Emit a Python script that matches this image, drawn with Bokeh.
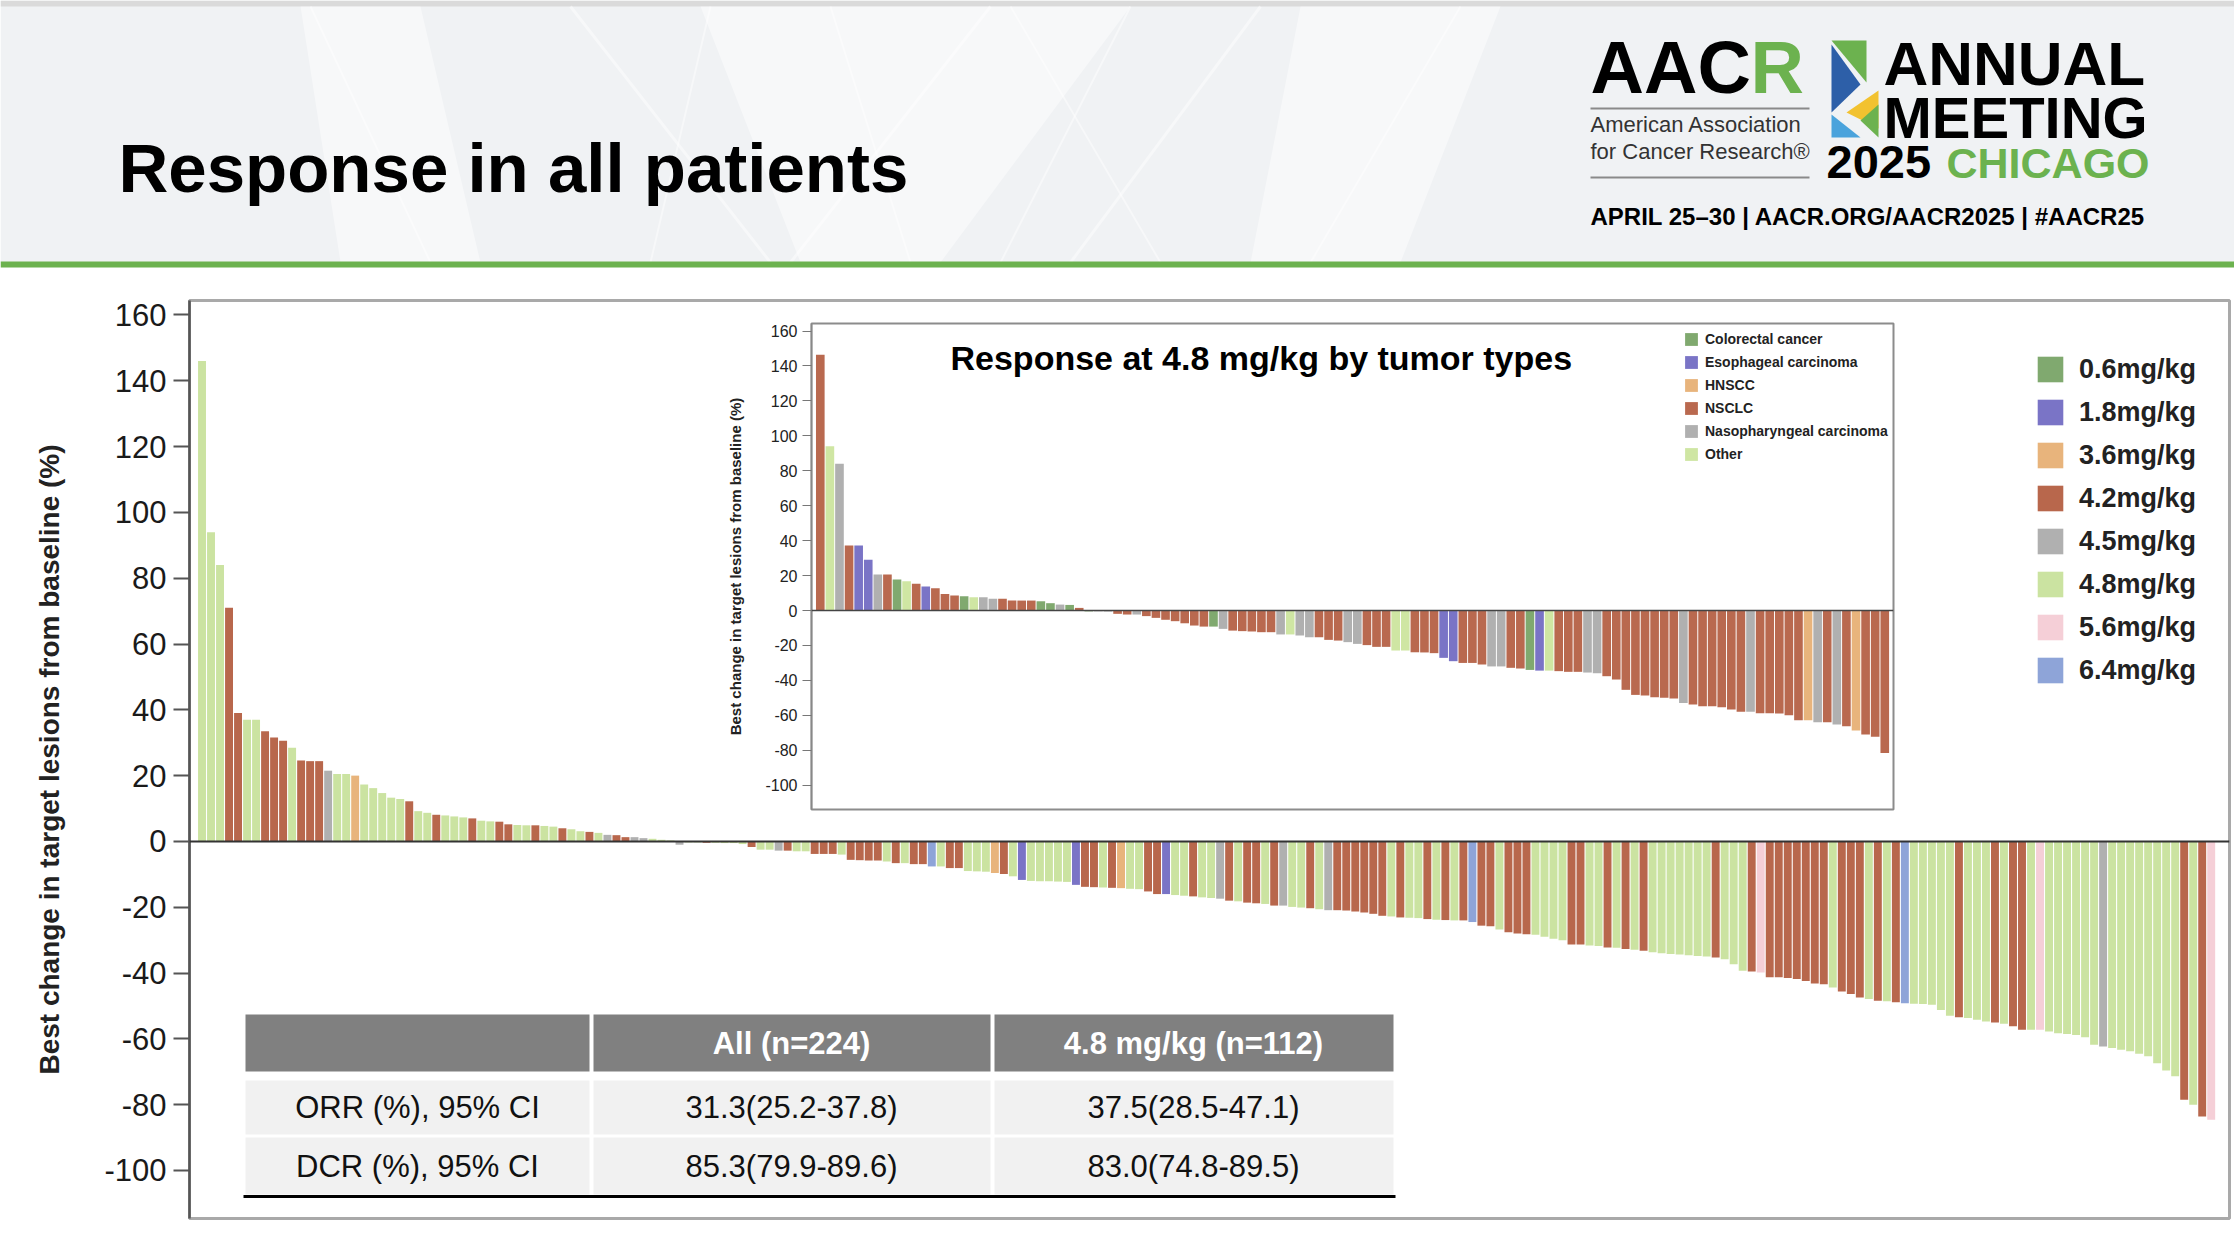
from bokeh.plotting import figure
from bokeh.models import Range1d, FixedTicker, Span, Legend, LegendItem, ColumnDataSource
from bokeh.embed import file_html
from bokeh.resources import INLINE
from bokeh.core.properties import value

W, H = 2234, 1246
FONT = "Liberation Sans"
NAN = float("nan")

# ---------------- data ----------------
dose_codes = ["0.6", "1.8", "3.6", "4.2", "4.5", "4.8", "5.6", "6.4"]
dose_labels = ["0.6mg/kg", "1.8mg/kg", "3.6mg/kg", "4.2mg/kg", "4.5mg/kg", "4.8mg/kg", "5.6mg/kg", "6.4mg/kg"]
dose_colors = ["#80a96f", "#7a74c6", "#e8b47c", "#b8674c", "#b0b0b0", "#cbe3a1", "#f5cfd7", "#8ea4d8"]

main_values = [
    146, 94, 84, 71, 39, 37, 37, 33.5, 31.6, 30.6,
    28.5, 24.6, 24.4, 24.4, 21.5, 20.5, 20.5, 20, 17.3, 16.2,
    14.7, 13.3, 12.9, 12.2, 9.2, 8.7, 8.1, 7.9, 7.6, 7.3,
    7.0, 6.3, 6.1, 6.0, 5.2, 5.0, 4.9, 4.9, 4.7, 4.5,
    4.0, 3.7, 3.1, 2.9, 2.6, 2.0, 1.9, 1.3, 1.3, 1.0,
    0.8, 0.5, 0.3, -1.0, -0.3, -0.3, -0.4, -0.4, -0.5, -0.5,
    -0.8, -1.7, -2.5, -2.5, -2.8, -2.8, -3.0, -3.0, -3.8, -3.8,
    -3.8, -4.0, -5.6, -5.7, -5.8, -5.8, -6.1, -6.6, -6.6, -6.9,
    -6.9, -7.6, -7.6, -8.1, -8.1, -9.0, -9.1, -9.2, -9.6, -9.9,
    -10.6, -11.7, -12.0, -12.1, -12.1, -12.2, -12.3, -13.2, -13.8, -13.9,
    -14.0, -14.1, -14.2, -14.4, -14.5, -15.2, -16.0, -16.0, -16.3, -16.5,
    -16.7, -17.0, -17.2, -17.4, -18.0, -18.2, -18.6, -18.8, -19.0, -19.5,
    -19.5, -19.9, -20.1, -20.3, -20.6, -20.9, -20.9, -21.0, -21.3, -21.6,
    -22.0, -22.6, -22.8, -23.1, -23.2, -23.3, -23.6, -23.8, -23.9, -24.0,
    -24.0, -24.5, -25.6, -25.8, -26.8, -27.6, -28.0, -28.2, -28.4, -29.0,
    -29.6, -30.0, -31.3, -31.3, -31.6, -31.8, -32.2, -32.3, -32.7, -32.9,
    -33.2, -33.7, -34.0, -34.2, -34.4, -34.6, -34.8, -35.0, -35.3, -35.8,
    -37.3, -39.3, -39.5, -39.8, -41.3, -41.3, -41.5, -41.8, -42.4, -43.2,
    -43.4, -44.4, -45.6, -46.4, -47.4, -47.9, -48.4, -48.6, -48.9, -49.2,
    -49.3, -49.4, -49.6, -51.2, -53.0, -53.4, -53.7, -54.2, -54.7, -55.0,
    -55.4, -56.2, -57.2, -57.2, -57.2, -57.8, -58.3, -58.5, -58.8, -59.5,
    -61.8, -62.3, -62.8, -63.3, -63.8, -64.5, -65.3, -67.4, -69.6, -71.4,
    -78.5, -80.0, -83.6, -84.6,
]
main_doses = (
    "4.8 4.8 4.8 4.2 4.2 4.8 4.8 4.2 4.2 4.2 "
    "4.8 4.2 4.2 4.2 4.5 4.8 4.8 3.6 4.8 4.8 "
    "4.8 4.8 4.8 4.2 4.8 4.8 4.2 4.8 4.8 4.8 "
    "4.2 4.8 4.8 4.2 4.2 4.8 4.8 4.2 4.8 4.8 "
    "4.2 4.8 4.8 4.2 4.8 4.5 4.2 4.2 4.5 4.5 "
    "4.8 4.8 4.8 4.5 4.8 4.8 4.2 4.8 4.8 4.8 "
    "4.8 4.2 4.8 4.8 4.5 4.2 4.8 4.8 4.2 4.2 "
    "4.2 4.8 4.2 4.2 4.2 4.2 4.8 4.2 4.8 4.2 "
    "4.2 6.4 4.8 4.2 4.2 4.8 4.8 4.8 3.6 4.2 "
    "4.8 1.8 4.8 4.8 4.8 4.8 4.8 1.8 4.2 4.2 "
    "4.8 4.2 3.6 4.8 4.8 4.2 4.2 1.8 4.8 4.8 "
    "4.2 4.8 4.8 4.5 4.2 4.8 4.2 4.2 4.8 4.2 "
    "4.5 4.8 4.8 4.2 4.8 4.5 4.2 4.2 4.2 4.2 "
    "4.2 4.2 4.8 4.2 4.8 4.8 4.2 4.8 4.2 4.8 "
    "4.2 6.4 4.2 4.2 4.8 4.2 4.2 4.2 4.8 4.8 "
    "4.8 4.8 4.2 4.2 4.8 4.8 4.2 4.8 4.2 4.8 "
    "4.2 4.8 4.8 4.8 4.8 4.8 4.8 4.8 4.2 4.8 "
    "4.8 4.8 4.2 5.6 4.2 4.2 4.2 4.2 4.2 4.2 "
    "4.2 4.8 4.2 4.2 4.2 4.8 4.2 4.8 4.2 6.4 "
    "4.8 4.8 4.8 4.8 4.8 4.2 4.8 4.8 4.8 4.2 "
    "4.8 4.2 4.2 4.8 5.6 4.8 4.8 4.8 4.8 4.8 "
    "4.8 4.5 4.8 4.8 4.8 4.8 4.8 4.8 4.8 4.8 "
    "4.2 4.8 4.2 5.6"
).split()

type_codes = ["C", "E", "H", "N", "Na", "O"]
type_labels = ["Colorectal cancer", "Esophageal carcinoma", "HNSCC", "NSCLC",
               "Nasopharyngeal carcinoma", "Other"]
type_colors = ["#80a96f", "#7a74c6", "#e8b47c", "#b9694f", "#b0b0b0", "#cfe6a3"]

inset_values = [
    146.4, 94, 84, 37.2, 37.2, 29, 20.6, 20.6, 17.7, 16.8,
    15.3, 13.7, 12.8, 9.5, 8.6, 8.2, 7.6, 7.6, 6.7, 6.7,
    5.7, 5.7, 5.7, 5.3, 4.2, 3.4, 3.2, 1.5, -0.5, -0.5,
    -0.6, -1.9, -2.3, -2.3, -3.2, -4.2, -5.3, -6.1, -7.3, -8.6,
    -9.2, -9.2, -10.5, -11.5, -11.8, -12.0, -12.4, -12.4, -13.7, -13.7,
    -14.3, -15.3, -15.3, -16.8, -17.2, -18.1, -19.1, -19.8, -20.8, -20.8,
    -22.9, -22.9, -23.9, -24.0, -24.4, -27.1, -29.0, -30.0, -30.0, -30.9,
    -32.0, -32.0, -32.8, -33.2, -34.0, -34.4, -34.4, -34.7, -35.1, -35.1,
    -35.5, -35.9, -37.6, -39.5, -45.4, -48.3, -48.7, -49.6, -50.0, -50.4,
    -52.9, -53.8, -54.8, -54.8, -55.3, -56.7, -58.0, -58.0, -58.8, -58.8,
    -59.0, -59.9, -62.8, -62.8, -63.9, -63.9, -65.3, -66.2, -68.7, -71.0,
    -72.3, -81.5,
]
inset_types = (
    "N O Na N E E Na N C O "
    "N E N N N C O Na Na N "
    "N N N C C Na C N C Na "
    "Na N N Na N N N N N N "
    "N C Na N N N N N Na O "
    "Na Na N N N Na Na N N N "
    "O O N N N E E N N N "
    "Na Na N N C E O N N N "
    "Na Na N N N N N N N N "
    "Na N N N N N N Na N N "
    "N N N H Na N Na N H N "
    "N N"
).split()

y_ticks = [-100, -80, -60, -40, -20, 0, 20, 40, 60, 80, 100, 120, 140, 160]
y_tick_labels = ["-100", "-80", "-60", "-40", "-20", "0", "20", "40", "60", "80",
                 "100", "120", "140", "160"]
y_axis_title = "Best change in target lesions from baseline (%)"

table_header = ["", "All (n=224)", "4.8 mg/kg (n=112)"]
table_rows = [
    ["ORR (%), 95% CI", "31.3(25.2-37.8)", "37.5(28.5-47.1)"],
    ["DCR (%), 95% CI", "85.3(79.9-89.6)", "83.0(74.8-89.5)"],
]

# ---------------- main waterfall ----------------
main = figure(width=W, height=H, output_backend="svg", toolbar_location=None,
              x_range=Range1d(-1.388, 225.03), y_range=Range1d(-114.6, 164.4),
              x_axis_location=None, min_border_left=189, min_border_right=5,
              min_border_top=300, min_border_bottom=28)
main.border_fill_color = None
main.background_fill_color = "white"
main.outline_line_color = "#a9a9a9"
main.outline_line_width = 3
main.grid.visible = False

items = []
for code, label, color in zip(dose_codes, dose_labels, dose_colors):
    idx = [i for i, d in enumerate(main_doses) if d == code]
    tops = [main_values[i] for i in idx]
    if not idx:  # dose level with no patient bar: keep a legend entry only
        idx, tops = [NAN], [NAN]
    src = ColumnDataSource(dict(x=idx, top=tops))
    r = main.vbar(x="x", top="top", bottom=0, width=0.88, source=src,
                  fill_color=color, line_color=None)
    items.append(LegendItem(label=label, renderers=[r]))

main.add_layout(Span(location=0, dimension="width", line_color="#333333", line_width=2))

ax = main.yaxis[0]
ax.ticker = FixedTicker(ticks=y_ticks)
ax.major_label_overrides = {t: s for t, s in zip(y_ticks, y_tick_labels)}
ax.minor_tick_line_color = None
ax.major_tick_out = 16
ax.major_tick_in = 0
ax.major_tick_line_color = "#555555"
ax.major_tick_line_width = 2
ax.axis_line_color = "#555555"
ax.axis_line_width = 2.5
ax.major_label_standoff = 7
ax.major_label_text_font = FONT
ax.major_label_text_font_size = "31px"
ax.major_label_text_color = "#1a1a1a"
ax.axis_label = y_axis_title
ax.axis_label_standoff = 36
ax.axis_label_text_font = FONT
ax.axis_label_text_font_size = "28px"
ax.axis_label_text_font_style = "bold"
ax.axis_label_text_color = "#222222"

leg = Legend(items=items, location=(1845, 532), orientation="vertical",
             glyph_width=32, glyph_height=32, label_height=32, spacing=11,
             padding=0, margin=0, label_standoff=13,
             label_text_font=FONT, label_text_font_size="27px",
             label_text_font_style="bold", label_text_color="#222222",
             border_line_color=None, background_fill_alpha=0)
main.add_layout(leg)

# ---------------- inset waterfall ----------------
inset = figure(width=W, height=H, output_backend="svg", toolbar_location=None,
               x_range=Range1d(-0.917, 111.91), y_range=Range1d(-113.9, 164.3),
               x_axis_location=None, min_border_left=811, min_border_right=341,
               min_border_top=323, min_border_bottom=437)
inset.border_fill_color = None
inset.background_fill_color = "white"
inset.outline_line_color = "#8c8c8c"
inset.outline_line_width = 2
inset.grid.visible = False

items2 = []
for code, label, color in zip(type_codes, type_labels, type_colors):
    idx = [i for i, t in enumerate(inset_types) if t == code]
    src = ColumnDataSource(dict(x=idx, top=[inset_values[i] for i in idx]))
    r = inset.vbar(x="x", top="top", bottom=0, width=0.9, source=src,
                   fill_color=color, line_color=None)
    items2.append(LegendItem(label=label, renderers=[r]))

inset.add_layout(Span(location=0, dimension="width", line_color="#444444", line_width=1.5))

ax2 = inset.yaxis[0]
ax2.ticker = FixedTicker(ticks=y_ticks)
ax2.major_label_overrides = {t: s for t, s in zip(y_ticks, y_tick_labels)}
ax2.minor_tick_line_color = None
ax2.major_tick_out = 9
ax2.major_tick_in = 0
ax2.major_tick_line_color = "#777777"
ax2.axis_line_color = "#888888"
ax2.axis_line_width = 1.5
ax2.major_label_standoff = 5
ax2.major_label_text_font = FONT
ax2.major_label_text_font_size = "16px"
ax2.major_label_text_color = "#222222"
ax2.axis_label = y_axis_title
ax2.axis_label_standoff = 18
ax2.axis_label_text_font = FONT
ax2.axis_label_text_font_size = "15px"
ax2.axis_label_text_font_style = "bold"
ax2.axis_label_text_color = "#222222"

leg2 = Legend(items=items2, location=(872, 347), orientation="vertical",
              glyph_width=16, glyph_height=16, label_height=16, spacing=7,
              padding=0, margin=0, label_standoff=6,
              label_text_font=FONT, label_text_font_size="14px",
              label_text_font_style="bold", label_text_color="#222222",
              border_line_color=None, background_fill_alpha=0)
inset.add_layout(leg2)

# ---------------- overlay: slide header, titles, table ----------------
ov = figure(width=W, height=H, output_backend="svg", toolbar_location=None,
            x_range=Range1d(0, W), y_range=Range1d(H, 0),
            x_axis_location=None, y_axis_location=None, min_border=0)
ov.background_fill_color = None
ov.border_fill_color = None
ov.outline_line_color = None
ov.grid.visible = False

# header background
ov.quad(left=[0], right=[W], top=[0], bottom=[262], fill_color="#f0f2f4", line_color=None)
ov.quad(left=[0], right=[W], top=[0], bottom=[6], fill_color="#dadada", line_color=None)
ov.patches(xs=[[700, 1130, 940, 800], [300, 420, 480, 340], [1300, 1500, 1400, 1250]],
           ys=[[6, 6, 262, 262], [6, 6, 262, 262], [6, 6, 262, 262]],
           fill_color="white", fill_alpha=0.45, line_color=None)
ov.segment(x0=[570, 710, 990, 1010, 1260, 310, 1460, 830, 1130],
           y0=[6, 6, 6, 6, 6, 6, 6, 6, 6],
           x1=[770, 650, 790, 1160, 1070, 430, 1310, 910, 1000],
           y1=[262, 262, 262, 262, 262, 262, 262, 262, 262],
           line_color="white", line_alpha=0.45, line_width=[3, 2, 3, 2, 3, 2, 2, 2, 2])
ov.quad(left=[0], right=[W], top=[261], bottom=[267], fill_color="#6cb24f", line_color=None)

def txt(x, baseline, s, size, color="black", style="bold", align="left"):
    # place by the vertical middle of the text box (about 0.35 em above the baseline)
    ov.text(x=[x], y=[baseline - 0.35 * size], text=[s], text_font=value(FONT),
            text_font_size=f"{size}px", text_font_style=style, text_color=color,
            text_align=align, text_baseline="middle")

txt(118, 192, "Response in all patients", 69)

# AACR logo block
txt(1590, 93, "AAC", 74)
txt(1750, 93, "R", 74, color="#6cb24f")
ov.segment(x0=[1590, 1590], y0=[108, 177], x1=[1809, 1809], y1=[108, 177],
           line_color="#8a8a8a", line_width=2)
txt(1590, 132, "American Association", 22, color="#333333", style="normal")
txt(1590, 159, "for Cancer Research\u00ae", 22, color="#333333", style="normal")
ov.patches(xs=[[1831, 1866, 1866], [1831, 1860, 1831], [1846, 1878, 1878], [1831, 1860, 1831], [1860, 1878, 1878]],
           ys=[[40, 40, 82], [44, 84, 112], [112, 90, 128], [114, 137, 137], [120, 104, 137]],
           fill_color=["#6cb24f", "#2d5fa8", "#f2c230", "#4aa3dc", "#6cb24f"], line_color=None)
txt(1883, 85, "ANNUAL", 62)
txt(1883, 137, "MEETING", 58)
txt(1826, 178, "2025", 47)
txt(1946, 178, "CHICAGO", 43, color="#6cb24f")
txt(1590, 224, "APRIL 25\u201330  |  AACR.ORG/AACR2025  |  #AACR25", 24)

# inset title
txt(950, 369, "Response at 4.8 mg/kg by tumor types", 34)

# summary table
col_l = [245, 593, 994]
col_r = [589, 990, 1393]
col_c = [417, 791, 1193]
ov.quad(left=col_l, right=col_r, top=[1014] * 3, bottom=[1071] * 3, fill_color="#808080", line_color=None)
row_top = [1080, 1137]
row_bot = [1134, 1194]
row_c = [1107, 1165.5]
for rt, rb in zip(row_top, row_bot):
    ov.quad(left=col_l, right=col_r, top=[rt] * 3, bottom=[rb] * 3, fill_color="#f1f1f1", line_color=None)
ov.segment(x0=[243], y0=[1196], x1=[1395], y1=[1196], line_color="black", line_width=3)
ov.text(x=col_c, y=[1043] * 3, text=table_header, text_font=value(FONT), text_font_size="31px",
        text_font_style="bold", text_color="white", text_align="center", text_baseline="middle")
for row, yc in zip(table_rows, row_c):
    ov.text(x=col_c, y=[yc] * 3, text=row, text_font=value(FONT), text_font_size="31px",
            text_color="#111111", text_align="center", text_baseline="middle")

# three separate roots (no shared layout, so no frame alignment), stacked onto
# one another with negative top margins
main.margin = (0, 0, 0, 0)
inset.margin = (-H, 0, 0, 0)
ov.margin = (-H, 0, 0, 0)

open("out.html", "w").write(file_html([main, inset, ov], INLINE))
